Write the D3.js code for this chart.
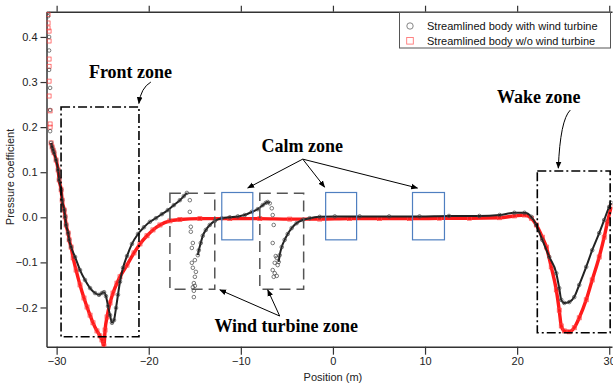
<!DOCTYPE html>
<html>
<head>
<meta charset="utf-8">
<script src="https://cdn.jsdelivr.net/npm/d3@7"></script>
<style>
  body { margin: 0; background: #fff; }
</style>
</head>
<body>
<figure id="chart" style="margin:0"></figure>
<script>
// series "with wind turbine" (black circles): continuous curve, null = gap
const blackX = [-30.60,-30.49,-30.38,-30.28,-30.06,-29.84,-29.73,-29.51,-29.40,-29.18,-29.08,-28.97,-28.75,-28.64,-28.43,-28.0,-27.46,-26.92,-26.37,-25.83,-25.4,-25.07,-24.85,-24.64,-24.42,-24.2,-23.99,-23.77,-23.55,-23.34,-23.12,-22.79,-22.36,-21.82,-21.17,-20.52,-19.87,-19.22,-18.57,-17.92,-17.27,-16.62,-16.19,-15.86,
  null,
  -14.67,-14.56,-14.35,-14.13,-13.8,-13.37,-12.82,-12.06,-11.2,-10.33,-9.57,-8.81,-8.16,-7.62,-7.3,-7.08,-6.86,
  null,
  -5.89,-5.78,-5.56,-5.24,-4.91,-4.48,-3.94,-3.29,-2.53,-1.44,0.2,2.9,6.1,9.4,12.6,15.9,18.1,19.7,20.8,21.54,22.08,22.73,23.49,24.25,24.57,24.79,25.12,25.66,26.2,26.74,27.5,28.15,28.91,29.45,29.99,30.2];
const blackY = [0.165,0.156,0.149,0.143,0.127,0.105,0.083,0.061,0.038,0.016,0.001,-0.017,-0.035,-0.05,-0.066,-0.088,-0.117,-0.139,-0.157,-0.168,-0.172,-0.168,-0.166,-0.175,-0.197,-0.217,-0.234,-0.228,-0.201,-0.172,-0.143,-0.112,-0.086,-0.059,-0.037,-0.022,-0.01,-0.002,0.007,0.016,0.027,0.038,0.047,0.054,
  null,
  -0.084,-0.073,-0.057,-0.041,-0.028,-0.017,-0.008,-0.002,0,0.002,0.005,0.012,0.018,0.027,0.032,0.034,0.031,
  null,
  -0.099,-0.084,-0.066,-0.05,-0.037,-0.024,-0.013,-0.006,-0.002,0.001,0.002,0.002,0.002,0.002,0.003,0.003,0.005,0.01,0.01,0.001,-0.017,-0.05,-0.088,-0.124,-0.157,-0.183,-0.19,-0.188,-0.177,-0.15,-0.11,-0.073,-0.035,-0.006,0.023,0.032];
// isolated black points (inlet spikes and turbine jumps)
const blackScatterX = [-30.93,-30.93,-30.82,-30.82,-30.82,-30.71,-30.71,-30.71,
  -15.54,-15.54,-15.43,-15.43,-15.21,-15.32,-15.32,-14.99,-15.21,-14.88,-14.99,-15.1,-14.99,-15.21,-15.1,-15.1,
  -6.64,-6.54,-6.43,-6.54,-6.21,-6.1,-6.32,-6.0,-6.54,-6.32,-6.1,-6.43];
const blackScatterY = [0.455,0.446,0.40,0.37,0.327,0.287,0.238,0.191,
  0.038,0.012,-0.021,-0.032,-0.057,-0.068,-0.101,-0.095,-0.112,-0.121,-0.132,-0.146,-0.152,-0.155,-0.163,-0.177,
  0.02,0.005,-0.017,-0.057,-0.086,-0.09,-0.101,-0.106,-0.117,-0.124,-0.13,-0.132];

// series "w/o wind turbine" (red squares)
const redX = [-30.60,-30.49,-30.38,-30.28,-30.06,-29.84,-29.73,-29.51,-29.40,-29.18,-29.08,-28.97,-28.75,-28.64,-28.43,-28.21,-27.89,-27.46,-27.03,-26.7,-26.37,-26.05,-25.62,-25.29,-25.08,-24.86,-24.74,-24.53,-24.2,-23.88,-23.45,-23.12,-22.36,-21.6,-20.95,-20.19,-19.54,-18.78,-17.7,-16.62,-14.45,-11.2,-7.94,-4.69,-1.44,1.8,5.06,8.3,11.57,14.82,18.07,19.7,20.8,21.54,22.08,22.73,23.17,23.7,24.25,24.57,24.79,25.12,25.66,26.2,26.74,27.5,28.15,28.91,29.45,29.78,30.2];
const redY = [0.165,0.156,0.149,0.143,0.127,0.105,0.083,0.061,0.038,0.016,0.001,-0.017,-0.035,-0.05,-0.066,-0.09,-0.117,-0.15,-0.179,-0.199,-0.217,-0.234,-0.252,-0.263,-0.272,-0.285,-0.25,-0.221,-0.19,-0.168,-0.146,-0.132,-0.106,-0.079,-0.059,-0.041,-0.028,-0.017,-0.008,-0.005,-0.003,-0.003,-0.003,-0.004,-0.004,-0.003,-0.003,-0.003,-0.002,-0.002,-0.001,0.003,0.005,-0.002,-0.017,-0.044,-0.066,-0.11,-0.161,-0.206,-0.241,-0.252,-0.254,-0.245,-0.223,-0.183,-0.139,-0.088,-0.044,-0.013,0.023];
const redScatterX = [-30.93,-30.93,-30.93,-30.82,-30.82,-30.82,-30.82,-30.82,-30.82,-30.71,-30.71,-30.71];
const redScatterY = [0.45,0.431,0.42,0.413,0.391,0.351,0.335,0.302,0.269,0.236,0.207,0.2];

const xTicks = [-30, -20, -10, 0, 10, 20, 30];
const yTicks = [-0.2, -0.1, 0.0, 0.1, 0.2, 0.3, 0.4];
const seriesNames = ["Streamlined body with wind turbine", "Streamlined body w/o wind turbine"];

const W = 613, H = 384;
const sans = "Liberation Sans, Arial, sans-serif";
const serif = "Liberation Serif, Times New Roman, serif";
const svg = d3.select("#chart").append("svg").attr("width", W).attr("height", H);

const x = d3.scaleLinear().domain([-31.1, 30.3]).range([46.5, 612]);
const y = d3.scaleLinear().domain([-0.287, 0.456]).range([346.7, 11.7]);

// defs: arrowhead, clip
const defs = svg.append("defs");
defs.append("marker").attr("id", "arr").attr("viewBox", "0 0 10 10")
  .attr("refX", 9).attr("refY", 5).attr("markerWidth", 7).attr("markerHeight", 7)
  .attr("orient", "auto-start-reverse")
  .append("path").attr("d", "M0,1 L10,5 L0,9 z").attr("fill", "#000");
defs.append("clipPath").attr("id", "plot").append("rect")
  .attr("x", 46.5).attr("y", 11.7).attr("width", 566).attr("height", 335);

// axes
svg.append("g").attr("transform", "translate(0,346.7)")
  .call(d3.axisBottom(x).tickValues(xTicks).tickSize(8).tickSizeOuter(0).tickFormat(d3.format("d")));
svg.append("g").attr("transform", "translate(0,11.7)")
  .call(d3.axisTop(x).tickValues(xTicks).tickSize(6).tickSizeOuter(0).tickFormat(""));
svg.append("g").attr("transform", "translate(46.5,0)")
  .call(d3.axisLeft(y).tickValues(yTicks).tickSize(6).tickSizeOuter(0).tickFormat(d3.format(".1f")));
svg.selectAll(".domain").attr("stroke", "#333").attr("stroke-width", 1.5);
svg.selectAll(".tick line").attr("stroke", "#333").attr("stroke-width", 1.2);
svg.selectAll(".tick text").attr("font-size", 11).attr("fill", "#222").attr("font-family", sans);

svg.append("text").attr("x", x(0)).attr("y", 381).attr("text-anchor", "middle")
  .attr("font-family", sans).attr("font-size", 11).attr("fill", "#222").text("Position (m)");
svg.append("text").attr("transform", "translate(14,177) rotate(-90)").attr("text-anchor", "middle")
  .attr("font-family", sans).attr("font-size", 11).attr("fill", "#222").text("Pressure coefficient");

// data marks
const plot = svg.append("g").attr("clip-path", "url(#plot)");
const line = d3.line().defined(d => d[0] !== null && d[1] !== null)
  .x(d => x(d[0])).y(d => y(d[1])).curve(d3.curveMonotoneX);

const redPts = redX.map((v, i) => [v, redY[i]]);
const blackPts = blackX.map((v, i) => [v, blackY[i]]);
const redAll = redPts.concat(redScatterX.map((v, i) => [v, redScatterY[i]]));
const blackAll = blackPts.filter(d => d[0] !== null)
  .concat(blackScatterX.map((v, i) => [v, blackScatterY[i]]));

plot.append("path").datum(redPts).attr("d", line)
  .attr("fill", "none").attr("stroke", "#ff1a1a").attr("stroke-width", 3.4);
plot.selectAll("rect.red").data(redAll).enter().append("rect").attr("class", "red")
  .attr("x", d => x(d[0]) - 2).attr("y", d => y(d[1]) - 2)
  .attr("width", 4).attr("height", 4)
  .attr("fill", "none").attr("stroke", "#ff4040").attr("stroke-width", 0.7);

plot.append("path").datum(blackPts).attr("d", line)
  .attr("fill", "none").attr("stroke", "#222").attr("stroke-width", 2);
plot.selectAll("circle.blk").data(blackAll).enter().append("circle").attr("class", "blk")
  .attr("cx", d => x(d[0])).attr("cy", d => y(d[1])).attr("r", 1.8)
  .attr("fill", "none").attr("stroke", "#444").attr("stroke-width", 0.7);

// annotation boxes (data units)
const box = (x0, x1, y0, y1) => svg.append("rect")
  .attr("x", x(x0)).attr("y", y(y1)).attr("width", x(x1) - x(x0)).attr("height", y(y0) - y(y1))
  .attr("fill", "none");
box(-29.52, -21.06, -0.265, 0.2446).attr("stroke", "#000").attr("stroke-width", 1.6).attr("stroke-dasharray", "9,3,2,3");
box(22.19, 30.1, -0.256, 0.1027).attr("stroke", "#000").attr("stroke-width", 1.6).attr("stroke-dasharray", "9,3,2,3");
box(-17.7, -12.83, -0.1597, 0.0532).attr("stroke", "#555").attr("stroke-width", 1.5).attr("stroke-dasharray", "11,6");
box(-7.94, -3.18, -0.1597, 0.0532).attr("stroke", "#555").attr("stroke-width", 1.5).attr("stroke-dasharray", "11,6");
[[-12.07, -8.7], [-0.79, 2.57], [8.64, 12.11]].forEach(b =>
  box(b[0], b[1], -0.05, 0.055).attr("stroke", "#4f7fc0").attr("stroke-width", 1.2));

// arrows
const arrow = (pts) => svg.append("path")
  .attr("d", pts.length === 3
    ? `M${x(pts[0][0])},${y(pts[0][1])} Q${x(pts[1][0])},${y(pts[1][1])} ${x(pts[2][0])},${y(pts[2][1])}`
    : `M${x(pts[0][0])},${y(pts[0][1])} L${x(pts[1][0])},${y(pts[1][1])}`)
  .attr("fill", "none").attr("stroke", "#000").attr("stroke-width", 1).attr("marker-end", "url(#arr)");
arrow([[-19.77, 0.300], [-20.85, 0.287], [-21.07, 0.2525]]);
arrow([[25.77, 0.2378], [24.68, 0.216], [24.47, 0.109]]);
[[-9.25, 0.065], [-0.9, 0.067], [9.18, 0.065]].forEach(t => arrow([[-3.28, 0.129], t]));
[[-12.28, -0.161], [-7.08, -0.161]].forEach(t => arrow([[-5.78, -0.219], t]));

// zone labels
const label = (t, cx, by) => svg.append("text").attr("x", x(cx)).attr("y", y(by))
  .attr("text-anchor", "middle").attr("font-family", serif)
  .attr("font-weight", "bold").attr("font-size", 18).attr("fill", "#000").text(t);
label("Front zone", -21.98, 0.3087);
label("Calm zone", -3.34, 0.1448);
label("Wake zone", 22.35, 0.2534);
label("Wind turbine zone", -5.07, -0.2543);

// legend
const lg = svg.append("g");
lg.append("rect").attr("x", 399.5).attr("y", 12.5).attr("width", 211).attr("height", 35.5)
  .attr("fill", "#fff").attr("stroke", "#555").attr("stroke-width", 1);
lg.append("circle").attr("cx", 410).attr("cy", 26).attr("r", 3.2)
  .attr("fill", "none").attr("stroke", "#777").attr("stroke-width", 0.9);
lg.append("rect").attr("x", 406.7).attr("y", 37.5).attr("width", 6.6).attr("height", 6.6)
  .attr("fill", "none").attr("stroke", "#f77").attr("stroke-width", 0.9);
seriesNames.forEach((s, i) => lg.append("text").attr("x", 427).attr("y", 30 + i * 15)
  .attr("font-family", sans).attr("font-size", 11).attr("fill", "#111").text(s));
</script>
</body>
</html>
